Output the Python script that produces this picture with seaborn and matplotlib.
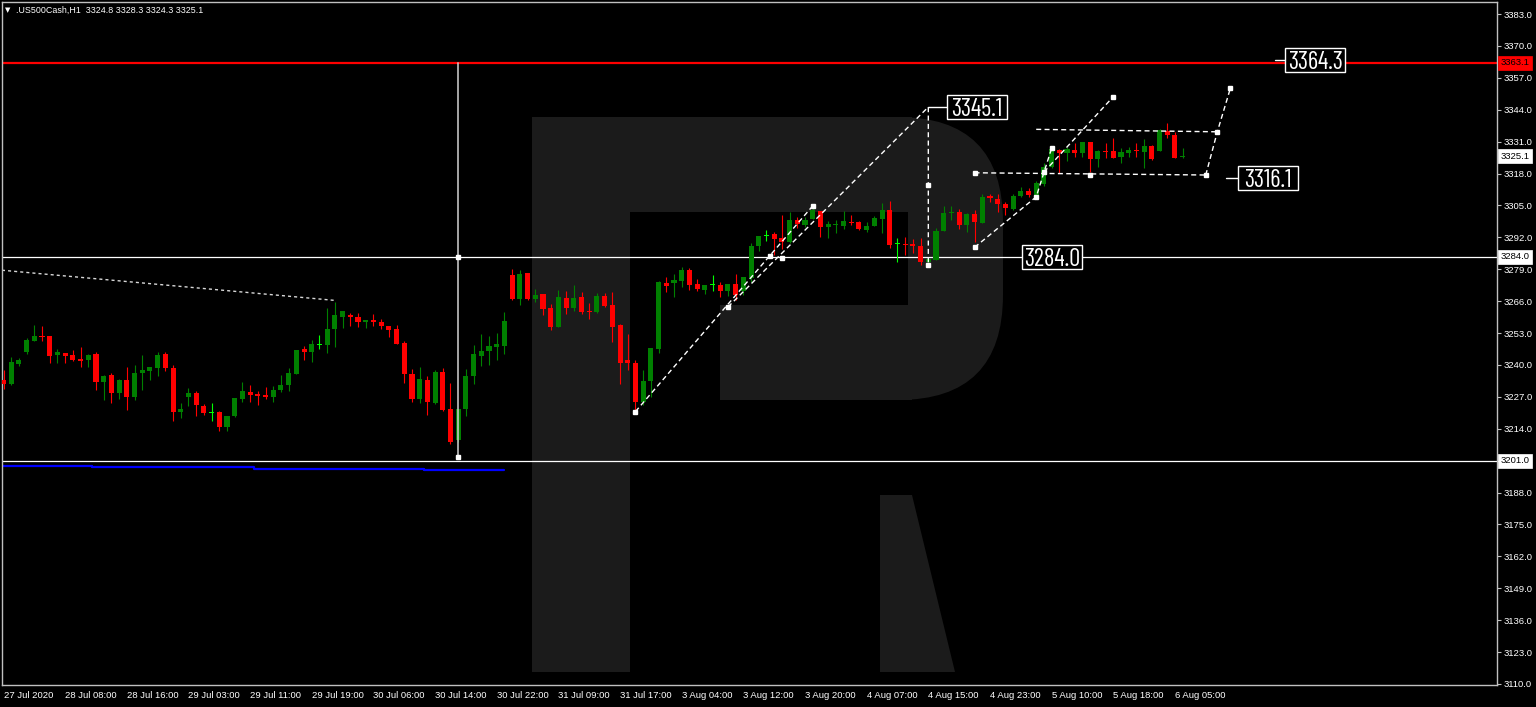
import numpy as np
import pandas as pd
import matplotlib
matplotlib.use("Agg")
import matplotlib.pyplot as plt
import seaborn as sns
from matplotlib.patches import Rectangle, FancyBboxPatch, Polygon
from matplotlib.transforms import Affine2D
from matplotlib import font_manager as fm
from matplotlib.textpath import TextPath
from matplotlib.font_manager import FontProperties

# ---------------- data (H1 candles, US500Cash) ----------------
opens = [3233.9, 3232.1, 3240.4, 3245.1, 3249.7, 3251.8, 3251.8, 3244.0, 3245.0, 3243.9,
         3242.4, 3242.0, 3244.4, 3233.0, 3235.9, 3228.6, 3233.7, 3226.9, 3236.8, 3237.4,
         3238.9, 3244.3, 3238.9, 3220.8, 3226.8, 3228.6, 3223.4, 3220.5, 3220.8, 3214.8,
         3219.2, 3226.1, 3229.0, 3228.3, 3227.7, 3227.1, 3229.8, 3231.8, 3236.4, 3246.4,
         3245.1, 3248.5, 3248.2, 3254.6, 3259.7, 3260.3, 3259.4, 3257.4, 3258.3, 3257.6,
         3256.0, 3254.5, 3248.8, 3236.3, 3226.0, 3234.0, 3224.6, 3237.0, 3221.9, 3209.4,
         3222.0, 3235.6, 3243.6, 3245.6, 3247.4, 3247.7, 3276.5, 3266.7, 3277.3, 3266.7,
         3269.0, 3263.2, 3255.6, 3267.1, 3263.1, 3267.6, 3262.0, 3261.4, 3268.1, 3264.4,
         3256.3, 3242.0, 3240.7, 3225.0, 3233.5, 3246.4, 3273.5, 3273.3, 3274.3, 3278.7,
         3273.0, 3270.7, 3272.8, 3272.6, 3270.2, 3272.9, 3270.2, 3275.3, 3288.6, 3292.8,
         3293.4, 3291.7, 3290.1, 3299.1, 3297.0, 3299.3, 3302.6, 3296.1, 3296.9, 3296.7,
         3298.4, 3298.4, 3295.0, 3296.6, 3299.3, 3303.1, 3289.5, 3289.3, 3289.2, 3288.6,
         3282.1, 3282.8, 3294.7, 3302.0, 3302.4, 3297.0, 3301.5, 3297.7, 3309.0, 3307.5,
         3305.6, 3303.4, 3308.8, 3311.0, 3309.2, 3313.6, 3320.5, 3327.6, 3326.5, 3327.6,
         3326.5, 3330.7, 3323.9, 3327.0, 3327.2, 3324.6, 3326.5, 3327.4, 3326.9, 3329.3,
         3327.2, 3335.4, 3333.7, 3324.8]
highs = [3237.9, 3243.1, 3242.8, 3250.8, 3256.1, 3255.9, 3251.8, 3246.5, 3245.0, 3246.1,
         3247.4, 3244.3, 3245.1, 3235.9, 3236.6, 3234.1, 3239.3, 3240.0, 3244.0, 3239.2,
         3245.4, 3245.3, 3240.0, 3224.6, 3230.7, 3229.4, 3224.2, 3224.4, 3221.2, 3219.2,
         3226.6, 3233.0, 3231.8, 3229.4, 3231.0, 3231.4, 3235.8, 3238.6, 3246.2, 3247.7,
         3250.2, 3252.2, 3263.2, 3265.8, 3262.0, 3261.0, 3261.0, 3258.3, 3260.7, 3258.6,
         3256.0, 3256.3, 3249.9, 3238.2, 3239.3, 3235.5, 3237.9, 3238.9, 3232.5, 3222.2,
         3238.3, 3248.1, 3252.6, 3251.8, 3252.9, 3261.6, 3279.1, 3278.7, 3277.3, 3270.8,
         3269.0, 3264.8, 3270.5, 3270.1, 3272.6, 3269.8, 3265.1, 3269.2, 3269.2, 3269.8,
         3256.7, 3252.6, 3242.0, 3237.9, 3247.0, 3274.2, 3275.7, 3277.1, 3280.0, 3279.4,
         3275.0, 3272.6, 3276.6, 3273.6, 3272.9, 3276.9, 3275.7, 3289.6, 3292.5, 3295.0,
         3294.3, 3301.1, 3302.2, 3300.2, 3300.4, 3305.2, 3302.6, 3298.8, 3299.1, 3302.8,
         3301.1, 3298.6, 3298.1, 3300.7, 3305.9, 3306.8, 3291.7, 3292.0, 3291.3, 3291.6,
         3283.6, 3295.7, 3304.8, 3304.8, 3303.4, 3302.0, 3303.1, 3309.5, 3309.5, 3309.7,
         3306.5, 3309.5, 3312.4, 3312.0, 3315.1, 3322.2, 3329.2, 3327.9, 3328.9, 3330.3,
         3331.0, 3331.0, 3327.6, 3330.3, 3332.3, 3328.3, 3328.9, 3330.3, 3331.9, 3329.5,
         3336.0, 3338.5, 3335.0, 3328.3]
lows = [3230.2, 3231.7, 3239.7, 3244.4, 3249.7, 3249.9, 3240.9, 3240.9, 3240.9, 3241.6,
        3239.3, 3239.2, 3229.8, 3225.7, 3224.4, 3226.1, 3221.6, 3225.7, 3229.8, 3233.9,
        3235.5, 3237.5, 3217.1, 3218.5, 3223.4, 3219.2, 3219.6, 3217.1, 3213.2, 3213.2,
        3218.8, 3225.0, 3225.0, 3223.7, 3226.1, 3225.0, 3228.8, 3229.4, 3236.2, 3242.0,
        3241.3, 3246.6, 3244.7, 3247.4, 3254.9, 3256.0, 3255.3, 3254.9, 3256.0, 3254.6,
        3251.5, 3248.6, 3232.5, 3225.0, 3224.4, 3219.6, 3224.0, 3221.3, 3207.8, 3208.5,
        3219.3, 3232.2, 3239.6, 3240.0, 3242.0, 3244.3, 3266.5, 3264.4, 3266.5, 3265.8,
        3260.3, 3254.2, 3255.6, 3260.7, 3262.1, 3260.7, 3258.7, 3261.0, 3263.7, 3249.5,
        3232.2, 3237.9, 3220.9, 3223.7, 3227.1, 3244.7, 3269.8, 3267.6, 3271.9, 3270.5,
        3270.2, 3268.8, 3270.2, 3267.8, 3268.0, 3266.5, 3268.5, 3273.9, 3286.5, 3290.5,
        3284.8, 3287.2, 3289.6, 3295.7, 3296.3, 3299.3, 3292.0, 3291.6, 3293.6, 3295.4,
        3297.0, 3295.0, 3294.0, 3296.5, 3293.9, 3287.8, 3282.1, 3284.8, 3285.5, 3280.7,
        3280.3, 3282.8, 3294.7, 3299.1, 3295.4, 3294.3, 3290.1, 3297.7, 3306.3, 3302.4,
        3301.1, 3303.1, 3308.5, 3308.5, 3307.5, 3312.9, 3320.1, 3318.1, 3323.2, 3324.8,
        3324.8, 3318.7, 3320.5, 3324.2, 3324.4, 3322.4, 3324.8, 3324.8, 3320.1, 3323.6,
        3327.0, 3332.6, 3324.3, 3324.3]
closes = [3232.2, 3241.3, 3242.0, 3250.2, 3251.8, 3251.3, 3243.8, 3245.1, 3243.6, 3242.0,
          3241.6, 3244.2, 3233.0, 3235.5, 3228.6, 3233.7, 3226.9, 3236.7, 3237.9, 3239.2,
          3244.0, 3238.9, 3220.9, 3221.9, 3228.4, 3223.5, 3220.3, 3220.5, 3214.8, 3219.2,
          3226.6, 3229.4, 3227.7, 3227.5, 3226.8, 3229.8, 3231.8, 3236.7, 3246.2, 3245.3,
          3248.5, 3248.5, 3254.5, 3260.3, 3262.0, 3259.4, 3257.4, 3258.3, 3257.4, 3255.9,
          3254.2, 3248.6, 3236.2, 3226.2, 3234.1, 3224.8, 3237.1, 3221.6, 3208.7, 3222.2,
          3235.6, 3244.3, 3245.8, 3247.7, 3248.5, 3258.0, 3266.7, 3277.2, 3266.7, 3268.5,
          3262.8, 3255.3, 3267.5, 3263.1, 3267.4, 3261.7, 3261.7, 3268.1, 3264.1, 3255.6,
          3240.9, 3240.9, 3225.0, 3233.6, 3247.0, 3273.8, 3272.3, 3274.6, 3278.7, 3272.7,
          3270.8, 3272.6, 3272.8, 3270.2, 3272.9, 3268.5, 3275.7, 3288.6, 3292.5, 3292.8,
          3291.3, 3290.1, 3299.1, 3297.4, 3299.1, 3303.1, 3296.1, 3297.3, 3297.3, 3298.8,
          3297.8, 3295.4, 3296.7, 3299.9, 3303.1, 3288.7, 3289.5, 3289.1, 3288.6, 3282.1,
          3283.0, 3294.6, 3302.0, 3302.4, 3297.0, 3301.5, 3298.1, 3308.6, 3307.9, 3305.6,
          3303.8, 3309.0, 3311.0, 3309.2, 3314.0, 3320.8, 3327.9, 3326.2, 3327.9, 3326.5,
          3330.7, 3323.9, 3327.3, 3326.8, 3324.4, 3326.6, 3327.6, 3327.2, 3329.3, 3323.9,
          3335.7, 3333.7, 3324.4, 3325.1]

time_labels = ["27 Jul 2020", "28 Jul 08:00", "28 Jul 16:00", "29 Jul 03:00", "29 Jul 11:00",
               "29 Jul 19:00", "30 Jul 06:00", "30 Jul 14:00", "30 Jul 22:00", "31 Jul 09:00",
               "31 Jul 17:00", "3 Aug 04:00", "3 Aug 12:00", "3 Aug 20:00", "4 Aug 07:00",
               "4 Aug 15:00", "4 Aug 23:00", "5 Aug 10:00", "5 Aug 18:00", "6 Aug 05:00"]
label_every = 8
price_ticks = [3110.0, 3123.0, 3136.0, 3149.0, 3162.0, 3175.0, 3188.0, 3201.0, 3214.0, 3227.0,
               3240.0, 3253.0, 3266.0, 3279.0, 3292.0, 3305.0, 3318.0, 3331.0, 3344.0, 3357.0,
               3370.0, 3383.0]

title_text = ".US500Cash,H1  3324.8 3328.3 3324.3 3325.1"
red_level = 3363.1
white_levels = [3284.0, 3201.0]
last_price = 3325.1

blue_x = [-0.5, 11.5, 11.5, 32.5, 32.5, 54.5, 54.5, 65.0]
blue_y = [3198.8, 3198.8, 3198.3, 3198.3, 3197.7, 3197.7, 3197.0, 3197.0]

trend_x = [-0.2, 43.0]
trend_y = [3278.6, 3266.3]

vline_bar = 59
vline_prices = [3363.1, 3202.5]
vline_marks = [3284.0, 3202.5]

wave1_x, wave1_y = [82, 105], [3221.0, 3304.8]
wave2_x, wave2_y = [94, 120, 120], [3263.6, 3345.1, 3280.7]
wave3_x, wave3_y = [126, 134, 136], [3287.9, 3308.5, 3328.3]
wave4_x, wave4_y = [135, 144], [3318.6, 3349.3]
range_low_x, range_low_y = [126, 156], [3318.3, 3317.4]
range_high_x, range_high_y = [134, 157.5], [3336.0, 3335.0]
wave5_x, wave5_y = [156, 157.5, 159.2], [3317.4, 3335.0, 3352.8]
arrow_x = [82, 94, 99.5, 101, 105, 120, 120, 126, 126, 134, 135, 136, 141, 144, 156, 157.5, 159.2]
arrow_y = [3221.0, 3263.6, 3284.4, 3283.5, 3304.8, 3313.3, 3280.7, 3287.9, 3318.3, 3308.5,
           3318.6, 3328.3, 3317.6, 3349.3, 3317.4, 3335.0, 3352.8]

target_texts = ["3345.1", "3364.3", "3316.1", "3284.0"]
target_prices = [3345.1, 3364.3, 3316.1, 3284.0]
target_bars = [122.4, 166.3, 160.2, 132.2]
target_stub_start = [120.0, 165.0, 158.6, 132.2]

# ---------------- style ----------------
sns.set_theme(style="dark", rc={"axes.facecolor": "black", "figure.facecolor": "black",
                                "axes.grid": False})
plt.rcParams["font.family"] = ["Liberation Sans", "DejaVu Sans"]

GREEN, RED, LIME = "#008000", "#ff0000", "#00ff00"
W, H = 1536, 707
PX_PER_BAR = 7.707
PX_PER_PRICE = 2.4542
fig = plt.figure(figsize=(W / 100, H / 100), dpi=100)
fig.patch.set_facecolor("black")
ax = fig.add_axes([2 / W, 1 - 685 / H, (1497 - 2) / W, (685 - 2) / H])
ax.set_facecolor("black")

# condensed font for the big price labels
available = {f.name for f in fm.fontManager.ttflist}
cands = ["Barlow Condensed", "Roboto Condensed", "PT Sans Narrow", "Archivo Narrow",
         "Fira Sans Extra Condensed", "Fira Sans Condensed", "IBM Plex Sans Condensed",
         "Open Sans Condensed", "Liberation Sans Narrow", "DejaVu Sans"]
big_font = next(c for c in cands if c in available)
big_fp = FontProperties(family=big_font)
ext = TextPath((0, 0), "3345.1", size=100, prop=big_fp).get_extents()
pt2px = 100 / 72
fs_w = 52 / (ext.width / 100 * pt2px)
fs_h = 17.5 / (ext.height / 100 * pt2px)
big_fs = min(fs_w, fs_h)
digit_h_px = ext.height / 100 * pt2px * big_fs

# pixel transform for watermark logo
pix = Affine2D().scale(1 / W, -1 / H).translate(0, 1) + fig.transFigure
wm = "#1b1b1b"
for patch in [Rectangle((532, 117), 98, 555),
              Rectangle((532, 117), 380, 283),
              FancyBboxPatch((803, 117), 200, 283, boxstyle="round,pad=0,rounding_size=105"),
              Polygon([(880, 495), (912, 495), (955, 672), (880, 672)])]:
    patch.set_transform(pix)
    patch.set_facecolor(wm)
    patch.set_edgecolor("none")
    patch.set_zorder(0.5)
    ax.add_patch(patch)
for patch in [Rectangle((630, 212), 278, 93), Rectangle((630, 305), 90, 95)]:
    patch.set_transform(pix)
    patch.set_facecolor("black")
    patch.set_edgecolor("none")
    patch.set_zorder(0.6)
    ax.add_patch(patch)

# ---------------- candles ----------------
df = pd.DataFrame({"bar": np.arange(len(opens)), "open": opens, "high": highs,
                   "low": lows, "close": closes})
o, c = df["open"].values, df["close"].values
cols = np.where(c > o, GREEN, np.where(c < o, RED, LIME))
ax.vlines(df["bar"], df["low"], df["high"], colors=cols, linewidth=0.8, zorder=3)
body = np.abs(c - o)
bh = np.maximum(body, 0.45)
ax.bar(df["bar"], bh, bottom=np.minimum(o, c) - (bh - body) / 2, width=0.66,
       color=cols, linewidth=0, zorder=4)

# ---------------- levels & indicator ----------------
ax.axhline(red_level, color=RED, lw=1.6, zorder=2)
for lv in white_levels:
    ax.axhline(lv, color="white", lw=0.9, zorder=2)
sns.lineplot(x=blue_x, y=blue_y, ax=ax, color="#0000ff", lw=1.6, sort=False,
             estimator=None, zorder=2)
sns.lineplot(x=trend_x, y=trend_y, ax=ax, color="#d8d8d8", lw=1.0, sort=False,
             estimator=None, zorder=2, dashes=False, linestyle=(0, (2.2, 2.2)))
ax.plot([vline_bar, vline_bar], vline_prices, color="#d0d0d0", lw=1.4, zorder=5, alpha=0.8)
ax.plot([vline_bar] * len(vline_marks), vline_marks, "s", color="white", ms=3.5, zorder=6)

# ---------------- forecast drawing ----------------
dash = (0, (3.6, 2.4))
for xs, ys in [(wave1_x, wave1_y), (wave2_x, wave2_y), (wave3_x, wave3_y), (wave4_x, wave4_y),
               (range_low_x, range_low_y), (range_high_x, range_high_y), (wave5_x, wave5_y)]:
    ax.plot(xs, ys, color="white", lw=1.0, linestyle=dash, zorder=5)
ax.plot(arrow_x, arrow_y, "s", color="white", ms=3, zorder=6, linestyle="none")

box_w = 60 / PX_PER_BAR
box_h = 24 / PX_PER_PRICE
for t, p, b, s in zip(target_texts, target_prices, target_bars, target_stub_start):
    if s < b:
        ax.plot([s, b], [p, p], color="white", lw=1.0, zorder=6)
    ax.add_patch(Rectangle((b, p - box_h / 2), box_w, box_h, fc="black", ec="white",
                           lw=1.0, zorder=7))
    ax.text(b + box_w / 2, p - digit_h_px / 2 / PX_PER_PRICE, t, color="white",
            fontsize=big_fs, ha="center", va="baseline", zorder=8, family=big_font)

# ---------------- axes ----------------
ax.set_xlim(-0.195, 193.79)
ax.set_ylim(3109.59, 3387.89)
ax.set_yticks(price_ticks)
ax.set_yticklabels([f"{v:.1f}" for v in price_ticks])
ax.yaxis.tick_right()
ax.tick_params(axis="y", colors="#c0c0c0", labelcolor="white", labelsize=6.8, length=3,
               width=0.8, pad=1.5, direction="out")
ax.set_xticks(np.arange(0, label_every * len(time_labels), label_every))
ax.set_xticklabels(time_labels, ha="left")
ax.tick_params(axis="x", colors="#c0c0c0", labelcolor="white", labelsize=6.8, length=3,
               width=0.8, pad=1.5, direction="out")
for sp in ax.spines.values():
    sp.set_color("#c0c0c0")
    sp.set_linewidth(1.0)
ax.set_xlabel("")
ax.set_ylabel("")

ytr = ax.get_yaxis_transform()
for val, fc in [(red_level, RED), (last_price, "white"), (white_levels[0], "white"),
                (white_levels[1], "white")]:
    ax.text(1.0025, val, f"{val:.1f}", transform=ytr, ha="left", va="center", fontsize=6.8,
            color="black", zorder=10, clip_on=False,
            bbox=dict(boxstyle="square,pad=0.25", fc=fc, ec=fc, lw=0.5))

fig.text(5 / W, 1 - 10.5 / H, "\u25bc", color="white", fontsize=5, va="center", ha="left",
         family=["DejaVu Sans"])
fig.text(16 / W, 1 - 10.5 / H, title_text, color="white", fontsize=6.4, va="center", ha="left")

fig.savefig("out.png", dpi=100, facecolor="black")
